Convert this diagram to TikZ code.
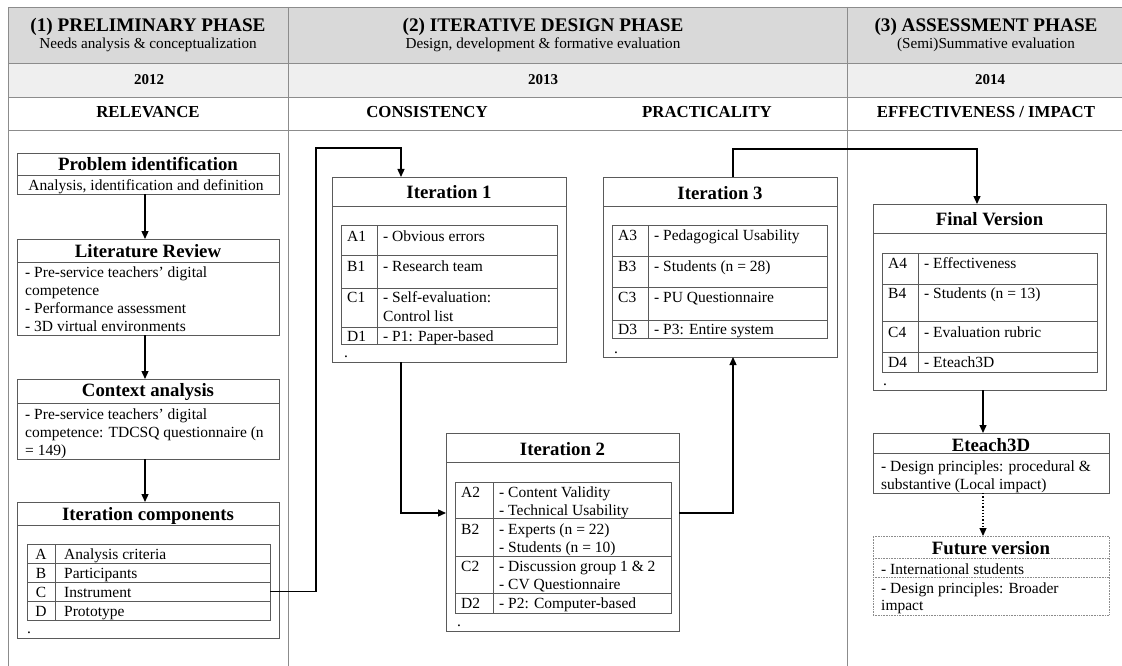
\documentclass[tikz,border=0pt]{standalone}
\usepackage{fontspec}
\setmainfont{Liberation Serif}
\usetikzlibrary{arrows.meta,calc}
\definecolor{hdA}{HTML}{D9D9D9}
\definecolor{hdB}{HTML}{EFEFEF}
\definecolor{frm}{HTML}{8C8C8C}
\definecolor{bxc}{HTML}{5A5A5A}
\newcommand\tabL{0}
\newcommand\tabD{0}
\newcommand\tabR{0}
\newcommand\settab[3]{\renewcommand\tabL{#1}\renewcommand\tabD{#2}\renewcommand\tabR{#3}}
% #1 name, #2 top, #3 bottom, #4 label, #5 text, #6 baseline
\newcommand\trow[6]{%
  \node[cell, minimum width=\tabR pt-\tabL pt, minimum height=#3pt-#2pt] (#1) at (\tabL,#2) {};
  \draw[cellline] (\tabD,#2) -- (\tabD,#3);
  \node[lbl] (#1l) at (\tabL+6,#6) {#4};
  \node[txt] (#1t) at (\tabD+6,#6) {#5};
}
\begin{document}
\begin{tikzpicture}[x=1pt,y=-1pt,
  frame/.style={draw=frm, line width=0.9pt},
  bx/.style={draw=bxc, line width=0.9pt, inner sep=0pt, outer sep=0pt, anchor=north west},
  bxline/.style={draw=bxc, line width=0.9pt},
  dbx/.style={draw=black!45, line width=0.6pt, densely dotted, inner sep=0pt, outer sep=0pt, anchor=north west},
  dline/.style={draw=black!45, line width=0.6pt, densely dotted},
  cell/.style={draw=bxc, line width=0.8pt, inner sep=0pt, outer sep=0pt, anchor=north west},
  cellline/.style={draw=bxc, line width=0.8pt},
  conn/.style={draw=black, line width=1.3pt, -{Triangle[length=8pt,width=7pt]}},
  hdt/.style={font=\fontsize{19.2}{21}\selectfont\bfseries, anchor=base, inner sep=0pt},
  hds/.style={font=\fontsize{15.2}{17}\selectfont, anchor=base, inner sep=0pt},
  hdy/.style={font=\fontsize{15}{17}\selectfont\bfseries, anchor=base, inner sep=0pt},
  hdc/.style={font=\fontsize{16.8}{18}\selectfont\bfseries, anchor=base, inner sep=0pt},
  ttl/.style={font=\fontsize{18.8}{20}\selectfont\bfseries, anchor=base, inner sep=0pt},
  txt/.style={font=\fontsize{15.5}{17.5}\selectfont, anchor=base west, inner sep=0pt},
  ctxt/.style={font=\fontsize{15.5}{17.5}\selectfont, anchor=base, inner sep=0pt},
  lbl/.style={font=\fontsize{15.5}{17.5}\selectfont, anchor=base west, inner sep=0pt},
  clbl/.style={font=\fontsize{15.5}{17.5}\selectfont, anchor=base, inner sep=0pt}
]
\useasboundingbox (0,0) rectangle (1122,666);
% ---------- header frame ----------
\fill[hdA] (8,7) rectangle (1122,63);
\fill[hdB] (8,63) rectangle (1122,97);
\draw[frame] (8,666) -- (8,7) -- (1122,7);
\draw[frame] (8,63) -- (1122,63);
\draw[frame] (8,97) -- (1122,97);
\draw[frame] (8,130) -- (1122,130);
\draw[frame] (288,7) -- (288,666);
\draw[frame] (847,7) -- (847,666);
\node[hdt] (h1) at (148,32) {(1) PRELIMINARY PHASE};
\node[hds] (h1s) at (148,49) {Needs analysis \& conceptualization};
\node[hdy] (y1) at (149,85) {2012};
\node[hdc] (c1) at (148,118) {RELEVANCE};
\node[hdt] (h2) at (543,32) {(2) ITERATIVE DESIGN PHASE};
\node[hds] (h2s) at (543,49) {Design, development \& formative evaluation};
\node[hdy] (y2) at (543,85) {2013};
\node[hdc] (c2a) at (427,118) {CONSISTENCY};
\node[hdc] (c2b) at (707,118) {PRACTICALITY};
\node[hdt] (h3) at (986,32) {(3) ASSESSMENT PHASE};
\node[hds] (h3s) at (986,49) {(Semi)Summative evaluation};
\node[hdy] (y3) at (990,85) {2014};
\node[hdc] (c3) at (986,118) {EFFECTIVENESS / IMPACT};
% ---------- column 1 ----------
\node[bx, minimum width=262pt, minimum height=41pt] (pi) at (17,153) {};
\draw[bxline] (17,175) -- (279,175);
\node[ttl] (pit) at (148,171) {Problem identification};
\node[ctxt] (pis) at (146,190) {Analysis, identification and definition};

\node[bx, minimum width=262pt, minimum height=96pt] (lr) at (17,239) {};
\draw[bxline] (17,262) -- (279,262);
\node[ttl] (lrt) at (148,257) {Literature Review};
\node[txt] (lr1) at (25,277) {- Pre-service teachers’ digital};
\node[txt] (lr2) at (25,295) {competence};
\node[txt] (lr3) at (25,313) {- Performance assessment};
\node[txt] (lr4) at (25,331) {- 3D virtual environments};

\node[bx, minimum width=262pt, minimum height=80pt] (ca) at (17,379) {};
\draw[bxline] (17,403) -- (279,403);
\node[ttl] (cat) at (148,396) {Context analysis};
\node[txt] (ca1) at (25,419) {- Pre-service teachers’ digital};
\node[txt] (ca2) at (25,437) {competence: TDCSQ questionnaire (n};
\node[txt] (ca3) at (25,455) {= 149)};

\node[bx, minimum width=262pt, minimum height=136pt] (ic) at (17,502) {};
\draw[bxline] (17,525) -- (279,525);
\node[ttl] (ict) at (148,520) {Iteration components};
\node[cell, minimum width=243pt, minimum height=19pt] (icA) at (27,544) {};
\node[cell, minimum width=243pt, minimum height=19pt] (icB) at (27,563) {};
\node[cell, minimum width=243pt, minimum height=19pt] (icC) at (27,582) {};
\node[cell, minimum width=243pt, minimum height=19pt] (icD) at (27,601) {};
\draw[cellline] (55,544) -- (55,620);
\node[clbl] (icAl) at (41,559) {A};
\node[clbl] (icBl) at (41,578) {B};
\node[clbl] (icCl) at (41,597) {C};
\node[clbl] (icDl) at (41,616) {D};
\node[txt] (icAt) at (64,559) {Analysis criteria};
\node[txt] (icBt) at (64,578) {Participants};
\node[txt] (icCt) at (64,597) {Instrument};
\node[txt] (icDt) at (64,616) {Prototype};
\node[txt] (icdot) at (27,633) {.};
% ---------- Iteration 1 ----------
\node[bx, minimum width=234pt, minimum height=185pt] (it1) at (332,177) {};
\draw[bxline] (332,206) -- (566,206);
\node[ttl] (it1t) at (449,198) {Iteration 1};
\settab{341}{377}{557}
\trow{a1}{225}{255}{A1}{- Obvious errors}{241}
\trow{b1}{255}{288}{B1}{- Research team}{271}
\trow{c1}{288}{327}{C1}{- Self-evaluation:}{302}
\node[txt] (c1u) at (383,321) {Control list};
\trow{d1}{327}{344}{D1}{- P1: Paper-based}{341}
\node[txt] (it1dot) at (344,357) {.};
% ---------- Iteration 2 ----------
\node[bx, minimum width=233pt, minimum height=198pt] (it2) at (446,433) {};
\draw[bxline] (446,462) -- (679,462);
\node[ttl] (it2t) at (562.5,455) {Iteration 2};
\settab{455}{493}{671}
\trow{a2}{482}{518}{A2}{- Content Validity}{497}
\node[txt] (a2u) at (499,515) {- Technical Usability};
\trow{b2}{518}{556}{B2}{- Experts (n = 22)}{534}
\node[txt] (b2u) at (499,552) {- Students (n = 10)};
\trow{c2}{556}{593}{C2}{- Discussion group 1 \& 2}{571}
\node[txt] (c2u) at (499,589) {- CV Questionnaire};
\trow{d2}{593}{613}{D2}{- P2: Computer-based}{608}
\node[txt] (it2dot) at (457,626) {.};
% ---------- Iteration 3 ----------
\node[bx, minimum width=234pt, minimum height=180pt] (it3) at (603,177) {};
\draw[bxline] (603,206) -- (837,206);
\node[ttl] (it3t) at (720,199) {Iteration 3};
\settab{612}{648}{827}
\trow{a3}{225}{256}{A3}{- Pedagogical Usability}{240}
\trow{b3}{256}{287}{B3}{- Students (n = 28)}{271}
\trow{c3}{287}{320}{C3}{- PU Questionnaire}{302}
\trow{d3}{320}{338}{D3}{- P3: Entire system}{334}
\node[txt] (it3dot) at (614,353) {.};
% ---------- Final version ----------
\node[bx, minimum width=233pt, minimum height=186pt] (fv) at (873,204) {};
\draw[bxline] (873,233) -- (1106,233);
\node[ttl] (fvt) at (989.5,225) {Final Version};
\settab{882}{918}{1097}
\trow{a4}{253}{284}{A4}{- Effectiveness}{268}
\trow{b4}{284}{321}{B4}{- Students (n = 13)}{298}
\trow{c4}{321}{352}{C4}{- Evaluation rubric}{337}
\trow{d4}{352}{372}{D4}{- Eteach3D}{367}
\node[txt] (fvdot) at (883,385) {.};
% ---------- Eteach3D ----------
\node[bx, minimum width=236pt, minimum height=60pt] (e3) at (873,433) {};
\draw[bxline] (873,453) -- (1109,453);
\node[ttl] (e3t) at (991,451) {Eteach3D};
\node[txt] (e31) at (881,471) {- Design principles: procedural \&};
\node[txt] (e32) at (881,489) {substantive (Local impact)};
% ---------- Future version ----------
\node[dbx, minimum width=236pt, minimum height=79pt] (fu) at (873,536) {};
\draw[dline] (873,558) -- (1109,558);
\draw[dline] (873,577) -- (1109,577);
\node[ttl] (fut) at (991,554) {Future version};
\node[txt] (fu1) at (881,574) {- International students};
\node[txt] (fu2) at (881,593) {- Design principles: Broader};
\node[txt] (fu3) at (881,610) {impact};
% ---------- connectors ----------
\coordinate (k0) at (145,0);
\draw[conn] (k0 |- pi.south) -- (k0 |- lr.north);
\draw[conn] (k0 |- lr.south) -- (k0 |- ca.north);
\draw[conn] (k0 |- ca.south) -- (k0 |- ic.north);
\coordinate (k1) at (316,591.5);
\coordinate (k2) at (316,148);
\coordinate (k3) at (401,148);
\draw[conn] (icC.east) -- (k1) -- (k2) -- (k3) -- (k3 |- it1.north);
\coordinate (k4) at (401,513);
\draw[conn] (k3 |- it1.south) -- (k4) -- (k4 -| it2.west);
\coordinate (k5) at (733,513);
\draw[conn] (k5 -| it2.east) -- (k5) -- (k5 |- it3.south);
\coordinate (k6) at (733,149);
\coordinate (k7) at (977,149);
\draw[conn] (k6 |- it3.north) -- (k6) -- (k7) -- (k7 |- fv.north);
\coordinate (k8) at (983,0);
\draw[conn] (k8 |- fv.south) -- (k8 |- e3.north);
\draw[conn, dotted, line width=1.2pt] (k8 |- e3.south) -- (k8 |- fu.north);
\end{tikzpicture}
\end{document}
